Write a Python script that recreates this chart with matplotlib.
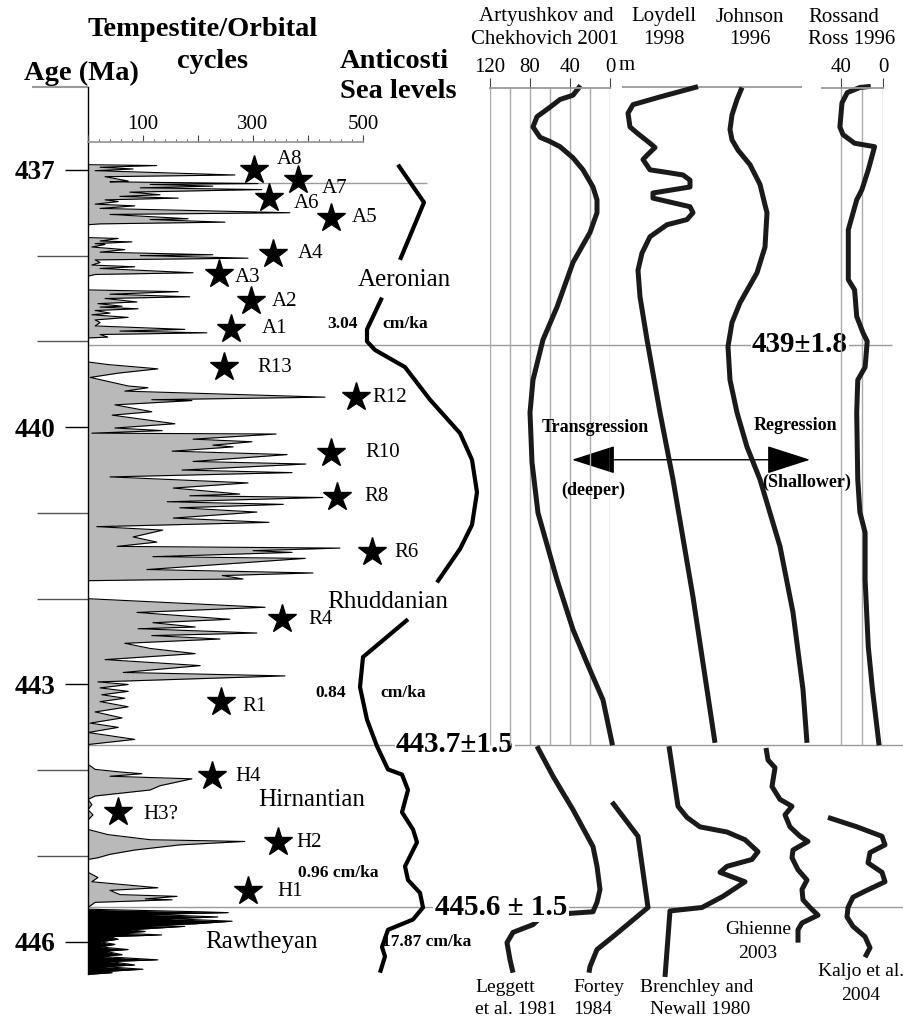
"""
Anticosti tempestite/orbital cycles and Late Ordovician - Early Silurian sea-level curves.
"""
import matplotlib
matplotlib.use('Agg')
import matplotlib.pyplot as plt
from matplotlib.patches import FancyArrowPatch
from matplotlib.ticker import MultipleLocator

plt.rcParams['font.family'] = ['Liberation Serif', 'DejaVu Serif']

W, H = 904, 1019
AGE_TOP, AGE_BOTTOM = 435.02, 446.90

# ---- tempestite / orbital cycles (outline of the histogram, age in Ma vs cycles) ----
AER1_AGE = [436.94, 436.95, 436.97, 436.99, 437.01, 437.06, 437.08, 437.13, 437.14, 437.16,
            437.17, 437.19, 437.21, 437.23, 437.26, 437.29, 437.31, 437.33, 437.35, 437.37,
            437.40, 437.42, 437.45, 437.50, 437.52, 437.57, 437.58, 437.61, 437.63, 437.64]
AER1_CYC = [0, 125, 22, 82, 13, 267, 31, 73, 40, 309, 113, 227, 95, 316, 76, 131, 58, 164, 31, 55,
            13, 85, 22, 367, 40, 182, 113, 249, 22, 0]
AER2_AGE = [437.79, 437.80, 437.83, 437.84, 437.86, 437.87, 437.90, 437.93, 437.96, 437.99,
            438.00, 438.03, 438.05, 438.08, 438.11, 438.13, 438.15, 438.20, 438.22, 438.24]
AER2_CYC = [0, 55, 22, 80, 13, 31, 7, 67, 22, 227, 95, 291, 13, 22, 7, 85, 22, 191, 13, 0]
AER3_AGE = [438.40, 438.42, 438.45, 438.48, 438.50, 438.54, 438.56, 438.59, 438.60, 438.62,
            438.64, 438.67, 438.69, 438.72, 438.75, 438.78, 438.82, 438.86, 438.88, 438.90,
            438.92, 438.95, 438.96]
AER3_CYC = [0, 164, 40, 185, 31, 89, 18, 62, 22, 91, 13, 40, 7, 73, 13, 22, 13, 176, 58, 216,
            22, 36, 0]
RHU1_AGE = [439.24, 439.27, 439.32, 439.37, 439.42, 439.52, 439.54, 439.58, 439.65, 439.68,
            439.69, 439.74, 439.82, 439.86, 439.96, 440.01, 440.04, 440.07, 440.08, 440.14,
            440.17, 440.21, 440.23, 440.28, 440.32, 440.40, 440.43, 440.50, 440.53, 440.58,
            440.65, 440.71, 440.78, 440.80, 440.82, 440.87, 440.90, 440.94, 440.99, 441.06,
            441.11, 441.16, 441.20, 441.28, 441.34, 441.39, 441.41, 441.44, 441.46, 441.51,
            441.53, 441.66, 441.70, 441.73, 441.77, 441.78, 441.79]
RHU1_CYC = [0, 36, 127, 55, 4, 73, 109, 67, 431, 116, 189, 49, 116, 44, 158, 49, 135, 7, 342, 191,
            298, 227, 264, 153, 362, 191, 396, 171, 371, 40, 291, 155, 276, 185, 427, 144, 355, 167,
            307, 155, 329, 16, 136, 82, 125, 53, 458, 300, 371, 118, 395, 107, 409, 244, 282, 113, 0]
RHU2_AGE = [442.00, 442.10, 442.16, 442.24, 442.28, 442.33, 442.35, 442.40, 442.43, 442.47,
            442.52, 442.58, 442.64, 442.71, 442.78, 442.86, 442.90, 442.97, 443.00, 443.04,
            443.08, 443.12, 443.16, 443.20, 443.26, 443.32, 443.39, 443.45, 443.50, 443.56,
            443.64, 443.70]
RHU2_CYC = [0, 322, 89, 258, 118, 195, 91, 307, 116, 240, 67, 113, 195, 31, 204, 64, 358, 18, 73,
            22, 73, 25, 67, 22, 73, 13, 62, 4, 55, 0, 85, 0]
HIR_AGE = [443.93, 443.99, 444.02, 444.04, 444.07, 444.10, 444.18, 444.23, 444.30, 444.34,
           444.40, 444.46, 444.52, 444.58, 444.69, 444.75, 444.81, 444.83, 444.87, 444.93,
           444.98, 445.02, 445.04, 445.19, 445.25, 445.30, 445.37, 445.40, 445.45, 445.47,
           445.50, 445.51, 445.54, 445.60]
HIR_CYC = [0, 13, 58, 98, 40, 189, 131, 113, 13, 0, 7, 0, 9, 0, 0, 36, 113, 285, 167, 85,
           40, 18, 0, 0, 18, 7, 127, 40, 58, 162, 104, 153, 13, 0]
RAW_AGE = [445.62, 445.65, 445.66, 445.68, 445.71, 445.73, 445.76, 445.79, 445.81, 445.82,
           445.86, 445.88, 445.90, 445.92, 445.94, 445.97, 446.00, 446.03, 446.06, 446.09,
           446.11, 446.15, 446.17, 446.21, 446.23, 446.27, 446.29, 446.32, 446.35, 446.36, 446.38]
RAW_CYC = [0, 204, 255, 113, 236, 149, 262, 195, 113, 176, 76, 104, 58, 134, 40, 55, 22, 49, 22,
           73, 31, 62, 22, 127, 40, 85, 31, 100, 22, 44, 0]

# ---- stars (cycles, age) ----
STAR_LABELS = ['A8', 'A7', 'A6', 'A5', 'A4', 'A3', 'A2', 'A1', 'R13', 'R12', 'R10', 'R8', 'R6',
               'R4', 'R1', 'H4', 'H3?', 'H2', 'H1']
STAR_CYC = [302, 382, 329, 442, 336, 238, 296, 260, 247, 487, 442, 453, 516, 353, 242, 225, 55,
            345, 291]
STAR_AGE = [437.00, 437.12, 437.33, 437.56, 437.98, 438.21, 438.53, 438.85, 439.30, 439.65,
            440.30, 440.81, 441.46, 442.24, 443.21, 444.07, 444.49, 444.84, 445.41]

# ---- Anticosti sea-level curve (schematic position, age) ----
ANTI_SEGMENTS = [
    ([398, 424, 400], [436.94, 437.38, 438.05]),
    ([382, 367, 367, 375, 405, 430, 460, 472, 477, 472, 460, 437],
     [438.49, 438.86, 439.00, 439.10, 439.30, 439.68, 440.07, 440.38, 440.76, 441.14, 441.42, 441.81]),
    ([408, 363, 360, 367, 377, 388, 402, 408, 402, 413, 417, 405, 408, 420, 423, 413, 388, 382, 385, 380],
     [442.24, 442.68, 443.03, 443.41, 443.72, 443.99, 444.05, 444.23, 444.49, 444.69, 444.84,
      445.12, 445.28, 445.43, 445.60, 445.74, 445.86, 446.06, 446.17, 446.36]),
]

# ---- Artyushkov and Chekhovich 2001 (depth m) ----
ART_DEPTH = [31, 37, 50, 60, 73, 77, 70, 60, 50, 37, 27, 17, 13, 13, 20, 37, 53, 67, 77, 80, 78, 72,
             53, 37, 23, 7, -2]
ART_AGE = [436.04, 436.13, 436.18, 436.27, 436.38, 436.50, 436.62, 436.67, 436.73, 436.86, 437.00,
           437.20, 437.35, 437.50, 437.73, 438.08, 438.60, 438.98, 439.45, 439.83, 440.41, 441.00,
           441.78, 442.36, 442.75, 443.18, 443.68]

# ---- Rossand Ross 1996 (depth m) ----
ROSS_DEPTH = [14, 22, 34, 39, 41, 38, 27, 8, 14, 20, 25, 33, 33, 27, 25, 19, 15, 17, 24, 25, 24,
              22, 17, 17, 17, 14, 10, 4]
ROSS_AGE = [436.03, 436.04, 436.10, 436.22, 436.50, 436.59, 436.69, 436.73, 437.00, 437.23,
            437.35, 437.70, 438.28, 438.40, 438.71, 438.90, 439.00, 439.30, 439.45, 439.83,
            440.61, 440.99, 441.23, 441.34, 441.78, 442.56, 443.06, 443.68]

# ---- schematic curves (column position, age) ----
LOYDELL_X = [698, 660, 633, 628, 630, 637, 650, 655, 647, 643, 650, 667, 683, 690, 690, 653, 653,
             690, 693, 687, 667, 650, 642, 638, 640, 647, 660, 673, 693, 707, 715]
LOYDELL_AGE = [436.03, 436.15, 436.24, 436.34, 436.50, 436.57, 436.69, 436.74, 436.83, 436.88,
               437.00, 437.03, 437.06, 437.12, 437.20, 437.27, 437.33, 437.43, 437.50, 437.58,
               437.64, 437.78, 437.97, 438.17, 438.48, 438.98, 439.83, 440.61, 441.98, 443.06, 443.68]
JOHNSON_X = [742, 737, 732, 730, 732, 738, 750, 760, 765, 767, 765, 757, 740, 732, 728, 730, 737,
             747, 760, 780, 793, 803, 807]
JOHNSON_AGE = [436.04, 436.18, 436.36, 436.53, 436.65, 436.77, 436.94, 437.17, 437.41, 437.50,
               437.90, 438.20, 438.55, 438.78, 439.06, 439.45, 439.83, 440.23, 440.61, 441.39,
               442.16, 443.06, 443.68]
LEGGETT_X = [537, 553, 573, 593, 597, 600, 597, 593, 543, 533, 513, 507, 510, 513]
LEGGETT_AGE = [443.72, 444.07, 444.46, 444.89, 445.12, 445.39, 445.54, 445.65, 445.69, 445.80,
               445.89, 446.01, 446.21, 446.36]
FORTEY_X = [612, 638, 648, 613, 597, 590, 589]
FORTEY_AGE = [444.37, 444.77, 445.60, 445.94, 446.09, 446.29, 446.36]
BRENCHLEY_X = [669, 678, 687, 700, 727, 745, 758, 752, 727, 720, 745, 723, 702, 670, 665]
BRENCHLEY_AGE = [443.72, 444.42, 444.55, 444.66, 444.72, 444.81, 444.95, 445.04, 445.12, 445.19,
                 445.30, 445.47, 445.60, 445.64, 446.41]
GHIENNE_X = [766, 768, 775, 772, 780, 792, 785, 790, 800, 808, 793, 792, 798, 807, 802, 803, 810,
             818, 802, 798, 798]
GHIENNE_AGE = [443.74, 443.88, 443.97, 444.19, 444.34, 444.42, 444.52, 444.66, 444.77, 444.83,
               444.93, 445.02, 445.16, 445.28, 445.39, 445.51, 445.60, 445.69, 445.78, 445.86, 446.01]
KALJO_X = [828, 857, 882, 885, 870, 868, 882, 885, 865, 853, 848, 847, 853, 865, 870, 865]
KALJO_AGE = [444.55, 444.66, 444.77, 444.87, 444.96, 445.08, 445.19, 445.30, 445.41, 445.48,
             445.60, 445.71, 445.82, 445.94, 446.07, 446.18]

MAJOR_AGES = [437, 440, 443, 446]
MINOR_AGES = [438, 439, 441, 442, 444, 445]

GRAY = '#9a9a9a'
BOLD = dict(fontweight='bold')


def fx(x):
    return x / W


def T(x, y, s, **kw):
    kw.setdefault('ha', 'center')
    kw.setdefault('va', 'center')
    return fig.text(x / W, 1 - y / H, s, **kw)


def column_axes(left, right, xlim):
    a = fig.add_axes([fx(left), 0, fx(right) - fx(left), 1])
    a.set_xlim(*xlim)
    a.set_ylim(AGE_BOTTOM, AGE_TOP)
    a.axis('off')
    return a


def scale_axes(left, right, y, xlim, ticks, labels, minor=None, major_len=4, minor_len=2):
    a = fig.add_axes([fx(left), 1 - y / H, fx(right) - fx(left), 1e-4])
    a.set_xlim(*xlim)
    a.patch.set_visible(False)
    for s in ['left', 'right', 'bottom']:
        a.spines[s].set_visible(False)
    a.spines['top'].set_color(GRAY)
    a.spines['top'].set_linewidth(1.3)
    a.set_yticks([])
    a.xaxis.tick_top()
    a.set_xticks(ticks, labels=labels)
    if minor:
        a.xaxis.set_minor_locator(MultipleLocator(minor))
    a.tick_params(axis='x', which='major', direction='out', length=major_len, width=0.8,
                  color='#444444', labelsize=15, pad=1)
    a.tick_params(axis='x', which='minor', direction='out', length=minor_len, width=0.6,
                  color='#444444')
    return a


fig = plt.figure(figsize=(W / 100, H / 100), dpi=100)

# background overlay axes: x = column position, y = age
ax = fig.add_axes([0, 0, 1, 1])
ax.set_xlim(0, W)
ax.set_ylim(AGE_BOTTOM, AGE_TOP)
ax.axis('off')

# boundary lines
ax.hlines(437.15, 88, 427, color=GRAY, lw=1)
ax.hlines(439.04, 88, 892, color=GRAY, lw=1)
ax.hlines(443.70, 88, 904, color=GRAY, lw=1)
ax.hlines(445.60, 88, 904, color=GRAY, lw=1)
ax.hlines(436.04, 622, 802, color=GRAY, lw=1.3)
ax.hlines(436.04, 32, 88, color=GRAY, lw=1.5)

# ---- histogram / age axis ----
axh = fig.add_axes([fx(88), 0, fx(363) - fx(88), 1])
axh.set_xlim(0, 500)
axh.set_ylim(AGE_BOTTOM, AGE_TOP)
axh.patch.set_visible(False)
for s in ['top', 'right', 'bottom']:
    axh.spines[s].set_visible(False)
axh.spines['left'].set_bounds(436.04, 446.38)
axh.spines['left'].set_linewidth(1)
axh.set_xticks([])
axh.set_yticks(MAJOR_AGES, labels=[str(a) for a in MAJOR_AGES])
axh.set_yticks(MINOR_AGES, minor=True)
axh.tick_params(axis='y', which='major', length=16.5, width=1, labelsize=19.5, pad=7)
axh.tick_params(axis='y', which='minor', length=37, width=1, color='#555555')
for lab in axh.get_yticklabels():
    lab.set_fontweight('bold')

for ages, cyc in [(AER1_AGE, AER1_CYC), (AER2_AGE, AER2_CYC), (AER3_AGE, AER3_CYC),
                  (RHU1_AGE, RHU1_CYC), (RHU2_AGE, RHU2_CYC), (HIR_AGE, HIR_CYC)]:
    axh.fill_betweenx(ages, 0, cyc, color='#b9b9b9', lw=0)
    axh.plot(cyc, ages, color='black', lw=0.8)
axh.fill_betweenx(RAW_AGE, 0, RAW_CYC, color='black', lw=0)
axh.plot(RAW_CYC, RAW_AGE, color='black', lw=0.8)

# stars
star_offsets = [(23, -10), (24, 8), (25, 5), (21, 0), (25, 0), (16, 4), (21, 0), (31, 0), (34, 0),
                (17, 0), (34, 0), (27, 0), (23, 0), (26, 0), (21, 4), (24, 0), (25, 2), (19, 0), (29, 0)]
axh.plot(STAR_CYC, STAR_AGE, ls='none', marker='*', ms=21, color='black', clip_on=False)
for lab, c, a, (dx, dy) in zip(STAR_LABELS, STAR_CYC, STAR_AGE, star_offsets):
    axh.annotate(lab, (c, a), xytext=(dx * 0.72, -dy * 0.72), textcoords='offset points',
                 fontsize=15, ha='left', va='center', annotation_clip=False)

# cycles scale
scale_axes(88, 363, 142, (0, 500), [0, 100, 200, 300, 400, 500],
           ['', '100', '', '300', '', '500'], minor=20, major_len=5, minor_len=2.5)

# ---- Anticosti sea levels ----
for xs, ages in ANTI_SEGMENTS:
    ax.plot(xs, ages, color='black', lw=3, solid_joinstyle='round', solid_capstyle='butt')

# ---- Artyushkov and Chekhovich ----
axa = column_axes(490, 610, (120, 0))
axa.vlines(range(0, 121, 20), 436.04, 443.70, color='#aaaaaa', lw=1)
axa.plot(ART_DEPTH, ART_AGE, color='#1a1a1a', lw=3.6, clip_on=False, solid_joinstyle='round')
scale_axes(490, 610, 88, (120, 0), [120, 80, 40, 0], ['120', '80', '40', '0'], major_len=7)

# ---- Rossand Ross ----
axr = column_axes(822, 883, (58, 0))
axr.vlines([0, 20, 40], 436.04, 443.70, color='#aaaaaa', lw=1)
axr.plot(ROSS_DEPTH, ROSS_AGE, color='#1a1a1a', lw=3.6, clip_on=False, solid_joinstyle='round')
scale_axes(822, 883, 88, (58, 0), [40, 0], ['40', '0'], major_len=7)

# ---- schematic curves ----
for xs, ages in [(LOYDELL_X, LOYDELL_AGE), (JOHNSON_X, JOHNSON_AGE), (LEGGETT_X, LEGGETT_AGE),
                 (FORTEY_X, FORTEY_AGE), (BRENCHLEY_X, BRENCHLEY_AGE), (GHIENNE_X, GHIENNE_AGE),
                 (KALJO_X, KALJO_AGE)]:
    ax.plot(xs, ages, color='#1a1a1a', lw=3.6, solid_joinstyle='round', solid_capstyle='butt')

# boundary ages
box = dict(fc='white', ec='none', pad=1)
ax.text(800, 439.04, '439±1.8', fontsize=21, ha='center', va='center', bbox=box, **BOLD)
ax.text(455, 443.70, '443.7±1.5', fontsize=21, ha='center', va='center', bbox=box, **BOLD)
ax.text(501, 445.60, '445.6 ± 1.5', fontsize=21, ha='center', va='center', bbox=box, **BOLD)

# transgression / regression arrow
arrow = FancyArrowPatch((572, 440.38), (810, 440.38),
                        arrowstyle='<|-|>,head_length=1.4,head_width=0.45',
                        mutation_scale=20, lw=1, color='black', shrinkA=0, shrinkB=0)
ax.add_patch(arrow)

# ---- texts ----
T(203, 30, 'Tempestite/Orbital', fontsize=20.5, **BOLD)
T(213, 62, 'cycles', fontsize=20.5, **BOLD)
T(81, 73, 'Age (Ma)', fontsize=20.5, **BOLD)
T(340, 62, 'Anticosti', fontsize=20.5, ha='left', **BOLD)
T(340, 92, 'Sea levels', fontsize=20.5, ha='left', **BOLD)

T(546, 17, 'Artyushkov and', fontsize=15)
T(545, 40, 'Chekhovich 2001', fontsize=15)
T(664, 17, 'Loydell', fontsize=15)
T(664, 40, '1998', fontsize=15)
T(750, 17, 'Johnson', fontsize=15)
T(750, 40, '1996', fontsize=15)
T(808, 17, 'Rossand', fontsize=15, ha='left')
T(808, 40, 'Ross 1996', fontsize=15, ha='left')
T(619, 65, 'm', fontsize=15, ha='left')

T(358, 280, 'Aeronian', fontsize=18, ha='left')
T(327, 602, 'Rhuddanian', fontsize=18, ha='left')
T(258, 800, 'Hirnantian', fontsize=18, ha='left')
T(205, 942, 'Rawtheyan', fontsize=18, ha='left')

T(327, 324, '3.04', fontsize=12.5, ha='left', **BOLD)
T(382, 324, 'cm/ka', fontsize=12.5, ha='left', **BOLD)
T(315, 693, '0.84', fontsize=12.5, ha='left', **BOLD)
T(380, 693, 'cm/ka', fontsize=12.5, ha='left', **BOLD)
T(298, 873, '0.96 cm/ka', fontsize=12.5, ha='left', **BOLD)
T(382, 942, '17.87 cm/ka', fontsize=12.5, ha='left', **BOLD)

T(595, 427, 'Transgression', fontsize=13, **BOLD)
T(593, 490, '(deeper)', fontsize=13, **BOLD)
T(795, 425, 'Regression', fontsize=13, **BOLD)
T(807, 482, '(Shallower)', fontsize=13, **BOLD)

T(475, 987, 'Leggett', fontsize=14, ha='left')
T(475, 1010, 'et al. 1981', fontsize=14, ha='left')
T(573, 987, 'Fortey', fontsize=14, ha='left')
T(573, 1010, '1984', fontsize=14, ha='left')
T(697, 987, 'Brenchley and', fontsize=14)
T(700, 1010, 'Newall 1980', fontsize=14)
T(758, 930, 'Ghienne', fontsize=14)
T(758, 953, '2003', fontsize=14)
T(861, 972, 'Kaljo et al.', fontsize=14)
T(861, 995, '2004', fontsize=14)

fig.savefig('out.png', dpi=100)
